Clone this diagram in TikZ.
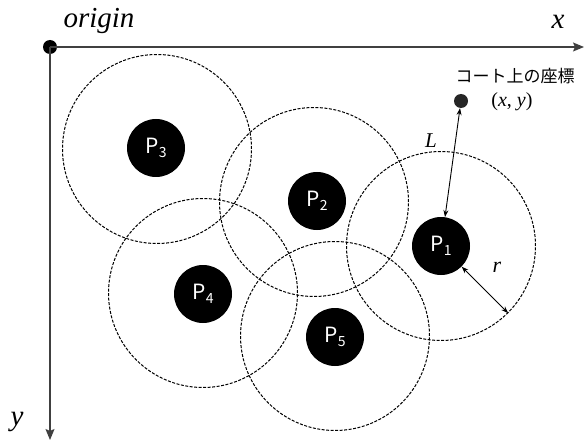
\documentclass[tikz,border=0pt]{standalone}
\usepackage{fontspec}
\setmainfont{Liberation Serif}
\newfontfamily\jpfont{Noto Sans CJK JP}
\usetikzlibrary{arrows.meta}
\tikzset{
  zone/.style={circle, draw=black, line width=1pt, dash pattern=on 3pt off 1.5pt, minimum size=189pt, inner sep=0pt},
  player/.style={circle, fill=black, minimum size=58pt, inner sep=0pt, text=white, font=\jpfont\fontsize{21}{21}\selectfont},
  axis/.style={line width=1.3pt, draw=black!75, -{Stealth[length=11pt,width=9pt,inset=2pt]}},
  dimarrow/.style={line width=0.9pt, {Stealth[length=7pt,width=5pt]}-{Stealth[length=7pt,width=5pt]}},
  lbl/.style={font=\itshape\fontsize{29}{29}\selectfont, inner sep=0pt},
}
\newcommand{\plab}[1]{P\raisebox{-0.35ex}{\fontsize{14}{14}\selectfont #1}}
\begin{document}
\begin{tikzpicture}[x=1pt,y=-1pt]
\useasboundingbox (0,0) rectangle (584,441);
% axes
\node[circle, fill=black, minimum size=14pt, inner sep=0pt] (O) at (50,47) {};
\coordinate (xend) at (584,47);
\coordinate (yend) at (50,440);
\draw[axis] (O.center) -- (xend);
\draw[axis] (O.center) -- (yend);
\node[lbl] (orig) at (99,21) {origin};
\node[lbl] (xl) at (558,22) {x};
\node[lbl] (yl) at (17,422) {y};
% zones
\node[zone] (B3) at (157,149) {};
\node[zone] (B2) at (314,202) {};
\node[zone] (B1) at (441,246) {};
\node[zone] (B4) at (203,293) {};
\node[zone] (B5) at (335,336) {};
% players
\node[player] (P3) at (156,148) {\plab{3}};
\node[player] (P2) at (317,201) {\plab{2}};
\node[player] (P1) at (441,246) {\plab{1}};
\node[player] (P4) at (203,294) {\plab{4}};
\node[player] (P5) at (335,337) {\plab{5}};
% target point
\node[circle, fill=black!85, minimum size=14pt, inner sep=0pt] (T) at (461,101) {};
\node[font=\jpfont\fontsize{17}{17}\selectfont, inner sep=0pt] (jp) at (515,76) {コート上の座標};
\node[font=\fontsize{20}{20}\selectfont, inner sep=0pt] (xy) at (512,102) {(\textit{x}, \textit{y})};
% dimensions
\draw[dimarrow] (P1) -- (T);
\node[font=\itshape\fontsize{21}{21}\selectfont, inner sep=0pt] (Ll) at (431,141) {L};
\draw[dimarrow] (P1.-45) -- (B1.-45);
\node[font=\itshape\fontsize{22}{22}\selectfont, inner sep=0pt] (rl) at (497,267) {r};
\end{tikzpicture}
\end{document}
